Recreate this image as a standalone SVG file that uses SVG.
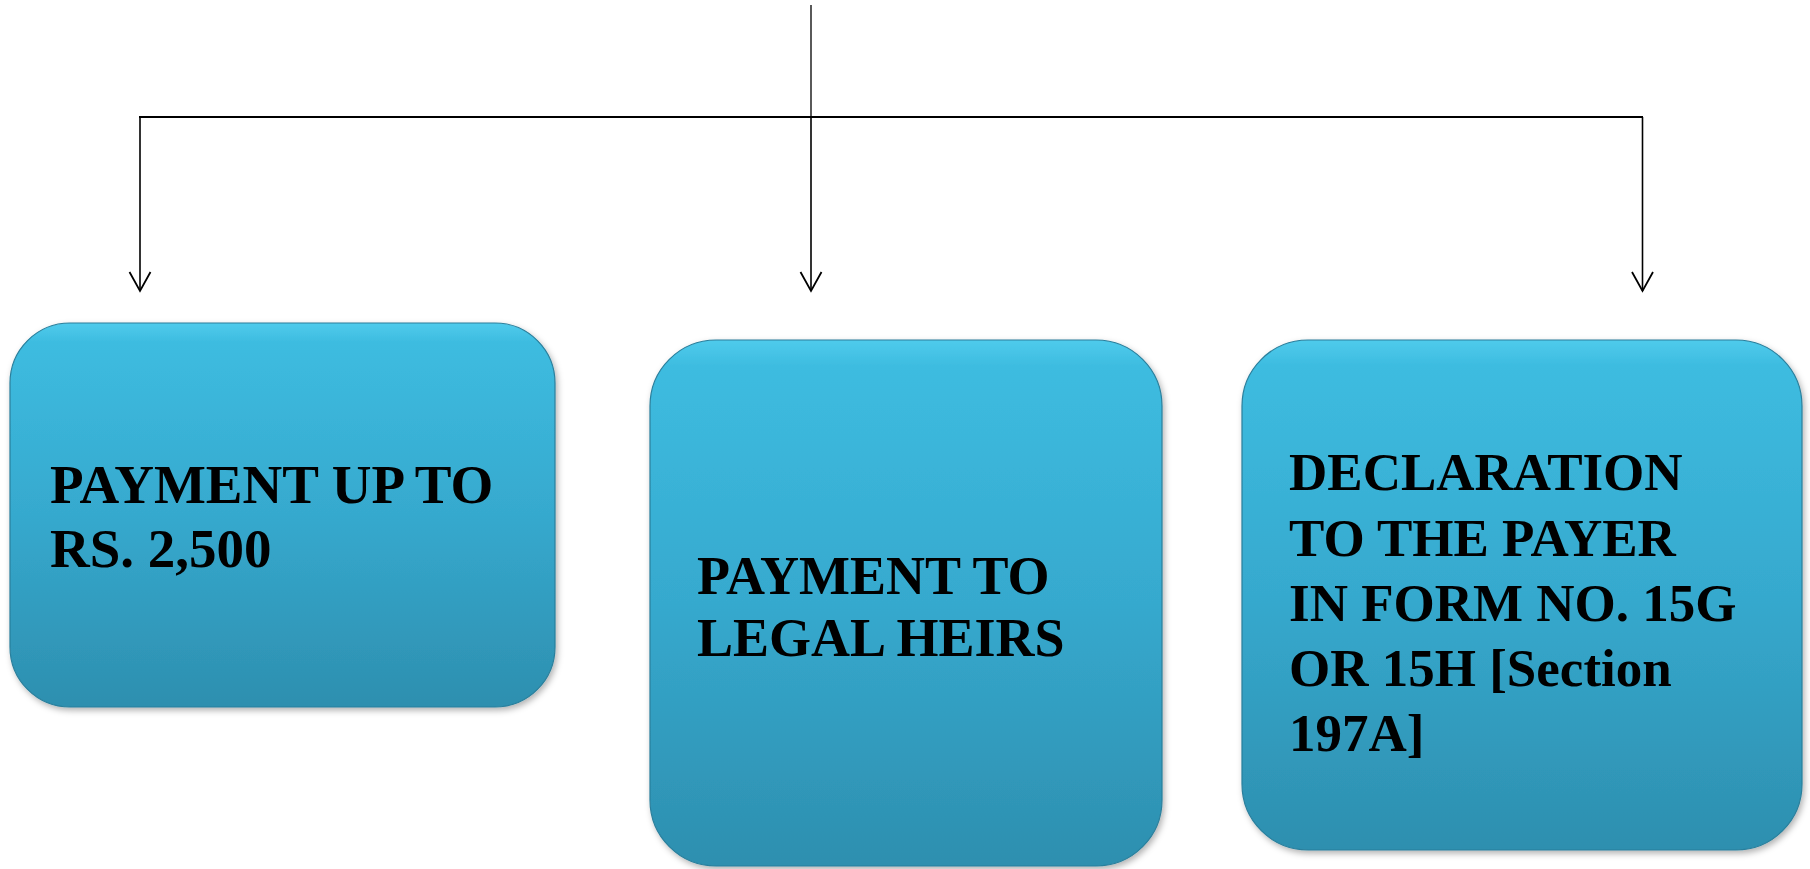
<svg xmlns="http://www.w3.org/2000/svg" width="1810" height="869" viewBox="0 0 1810 869">
<defs>
<linearGradient id="boxFill" x1="0" y1="0" x2="0" y2="1">
<stop offset="0" stop-color="#4FCBEC"/>
<stop offset="0.05" stop-color="#3DBCE0"/>
<stop offset="0.5" stop-color="#36A9CE"/>
<stop offset="1" stop-color="#2D8FAF"/>
</linearGradient>
<filter id="shadow" x="-5%" y="-5%" width="112%" height="112%">
<feDropShadow dx="2" dy="3" stdDeviation="3" flood-color="#000" flood-opacity="0.3"/>
</filter>
<marker id="arrow" markerUnits="userSpaceOnUse" markerWidth="30" markerHeight="30" refX="25" refY="15" orient="auto" viewBox="0 0 30 30">
<path d="M6,4.5 L25,15 L6,25.5" fill="none" stroke="#000" stroke-width="1.8"/>
</marker>
</defs>
<style>
.box { fill: url(#boxFill); stroke: #2A7F9C; stroke-width: 1.2; filter: url(#shadow); }
.lbl { font-family: "Liberation Serif", "Times New Roman", serif; font-weight: bold; font-size: 54px; fill: #000; }
.big { font-size: 55px; }
.small { font-size: 53px; }
.conn { stroke: #000; fill: none; }
</style>
<rect width="1810" height="869" fill="#fff"/>
<g id="connectors">
<line class="conn" x1="811" y1="5" x2="811" y2="117" stroke-width="1.3"/>
<line class="conn" x1="139" y1="117" x2="1643" y2="117" stroke-width="2"/>
<line class="conn" x1="140" y1="117" x2="140" y2="291" stroke-width="1.6" marker-end="url(#arrow)"/>
<line class="conn" x1="811" y1="117" x2="811" y2="291" stroke-width="1.6" marker-end="url(#arrow)"/>
<line class="conn" x1="1642.5" y1="117" x2="1642.5" y2="291" stroke-width="1.6" marker-end="url(#arrow)"/>
</g>
<g id="node1">
<rect class="box" x="10" y="323" width="545" height="384" rx="60" ry="60"/>
<text class="lbl big" x="50" y="503">PAYMENT UP TO</text>
<text class="lbl big" x="50" y="567">RS. 2,500</text>
</g>
<g id="node2">
<rect class="box" x="650" y="340" width="512" height="526" rx="66" ry="66"/>
<text class="lbl" x="697" y="594">PAYMENT TO</text>
<text class="lbl" x="697" y="656">LEGAL HEIRS</text>
</g>
<g id="node3">
<rect class="box" x="1242" y="340" width="560" height="510" rx="66" ry="66"/>
<text class="lbl small" x="1289" y="490">DECLARATION</text>
<text class="lbl small" x="1289" y="556">TO THE PAYER</text>
<text class="lbl small" x="1289" y="621">IN FORM NO. 15G</text>
<text class="lbl small" x="1289" y="686">OR 15H [Section</text>
<text class="lbl small" x="1289" y="751">197A]</text>
</g>
</svg>
